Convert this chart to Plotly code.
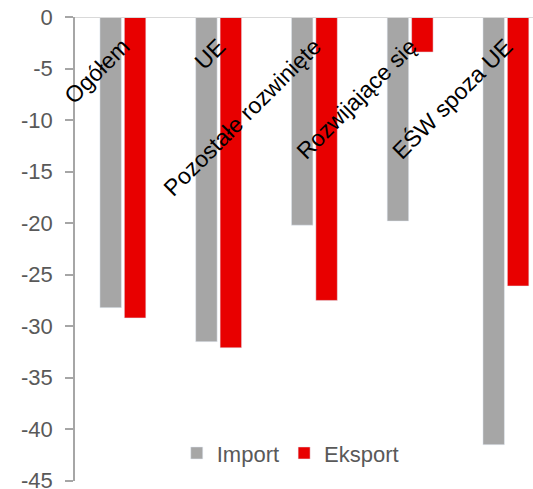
import plotly.graph_objects as go

categories = ["Ogółem", "UE", "Pozostałe rozwinięte", "Rozwijające się", "EŚW spoza UE"]
import_vals = [-28.2, -31.5, -20.2, -19.8, -41.5]
eksport_vals = [-29.2, -32.1, -27.5, -3.4, -26.1]
y_ticks = [0, -5, -10, -15, -20, -25, -30, -35, -40, -45]
y_tick_text = ["0", "-5", "-10", "-15", "-20", "-25", "-30", "-35", "-40", "-45"]

fig = go.Figure()
fig.add_trace(go.Bar(x=categories, y=import_vals, name="Import",
                     marker=dict(color="#a6a6a6")))
fig.add_trace(go.Bar(x=categories, y=eksport_vals, name="Eksport",
                     marker=dict(color="#e80000")))

fig.update_layout(
    width=533, height=489,
    margin=dict(l=75, r=0, t=17, b=8),
    paper_bgcolor="white", plot_bgcolor="white",
    barmode="group", bargap=0.49, bargroupgap=0.12,
    font=dict(family="Liberation Sans, Arial", size=21, color="#595959"),
    showlegend=True,
    legend=dict(orientation="h", x=0.47, xanchor="center", y=0.06, yanchor="middle",
                font=dict(size=22, color="#595959"), itemwidth=30,
                bgcolor="rgba(0,0,0,0)"),
    xaxis=dict(
        type="category", range=[-0.5, 4.283],
        anchor="free", position=0.977, side="bottom", automargin=False,
        showline=False, ticks="", showgrid=False, zeroline=False,
        tickangle=-45, tickfont=dict(size=23, color="black"),
    ),
    yaxis=dict(
        range=[-45.02, 0], tickvals=y_ticks, ticktext=y_tick_text,
        showgrid=False, zeroline=False, automargin=False,
        showline=True, linecolor="#a6a6a6", linewidth=1.5,
        ticks="outside", ticklen=8, tickcolor="#a6a6a6", tickwidth=1.5,
        tickfont=dict(size=22, color="#595959"), ticklabelstandoff=8,
        ticklabeloverflow="allow",
    ),
    shapes=[dict(type="line", xref="paper", yref="y", x0=0, x1=1, y0=0, y1=0,
                 line=dict(color="#d9d9d9", width=2), layer="above")],
)

fig.write_html("out.html")
